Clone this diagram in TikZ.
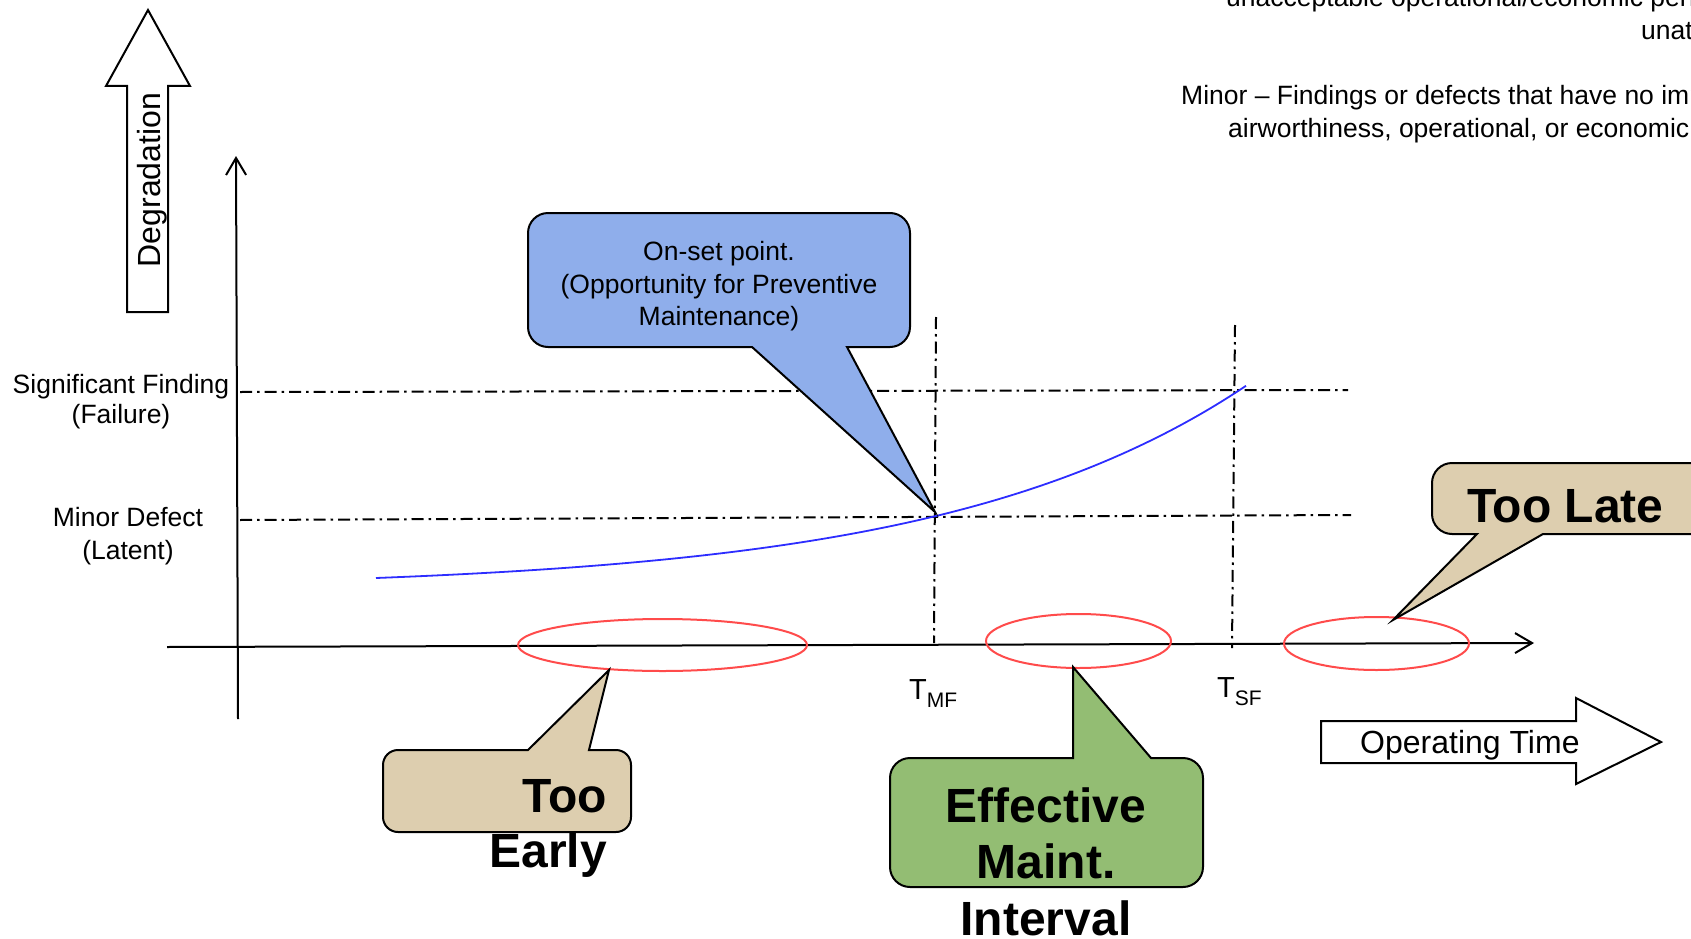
\documentclass[tikz,border=0pt]{standalone}
\usepackage{fontspec}
\setmainfont{Liberation Sans}
\usetikzlibrary{arrows.meta,shapes.geometric}
\definecolor{calloutblue}{RGB}{143,174,235}
\definecolor{callouttan}{RGB}{221,206,175}
\definecolor{calloutgreen}{RGB}{147,189,115}
\definecolor{ellred}{RGB}{255,75,75}
\definecolor{curveblue}{RGB}{45,45,255}
\tikzset{
  axisline/.style={line width=2pt, -{Straight Barb[length=17pt,width=20pt]}},
  dashdot/.style={line width=2pt, dash pattern=on 12pt off 5pt on 2.5pt off 5pt},
  blockarrow/.style={draw=black, line width=2pt, fill=white, line join=miter},
  calloutshape/.style={draw=black, line width=2pt, line join=miter},
  ell/.style={ellipse, draw=ellred, line width=2pt, inner sep=0pt},
  lbl/.style={font=\fontsize{26.5}{32}\selectfont, inner sep=0pt},
  bigb/.style={font=\bfseries\fontsize{48}{56}\selectfont, inner sep=0pt},
  midlbl/.style={font=\fontsize{32}{36}\selectfont, inner sep=0pt},
  tlbl/.style={font=\fontsize{29}{32}\selectfont, inner sep=0pt, anchor=base west},
}
\newcommand{\tsubscr}[1]{\raisebox{-8pt}{\fontsize{21}{21}\selectfont #1}}
\begin{document}
\begin{tikzpicture}[x=1pt,y=-1pt]
\path[use as bounding box] (0,0) rectangle (1691,939);
\clip (0,0) rectangle (1691,939);

% top-right text (cut by the picture edge)
\node[lbl, anchor=base west] (tr1) at (1226,7) {unacceptable operational/economic perf};
\node[lbl, anchor=base west] (tr2) at (1641,40) {unat};
\node[lbl, anchor=base west] (tr3) at (1181,104.5) {Minor – Findings or defects that have no imp};
\node[lbl, anchor=base west] (tr4) at (1228,137.5) {airworthiness, operational, or economic};

% Degradation block arrow
\draw[blockarrow] (127,312) -- (168,312) -- (168,86) -- (190,86) -- (148,10) -- (106,86) -- (127,86) -- cycle;
\node[midlbl, rotate=90, anchor=base] (deg) at (160,180) {Degradation};

% Operating Time block arrow
\draw[blockarrow] (1321,721) -- (1576,721) -- (1576,698) -- (1661,742) -- (1576,784) -- (1576,763) -- (1321,763) -- cycle;
\node[midlbl, anchor=base west] (optime) at (1360,753) {Operating Time};

% axes
\coordinate (yb) at (238,719);
\coordinate (yt) at (236,156);
\coordinate (xl) at (167,647);
\coordinate (xr) at (1534,643);
\draw[axisline] (yb) -- (yt);
\draw[axisline] (xl) -- (xr);

% dash-dot level lines
\coordinate (sfL) at (240,392);
\coordinate (sfR) at (1348,390);
\coordinate (mdL) at (240,520);
\coordinate (mdR) at (1351,515);
\draw[dashdot] (sfL) -- (sfR);
\draw[dashdot] (mdL) -- (mdR);
\coordinate (tmfT) at (936,317);
\coordinate (tmfB) at (934,643);
\coordinate (tsfT) at (1235,325);
\coordinate (tsfB) at (1232,648);
\draw[dashdot] (tmfT) -- (tmfB);
\draw[dashdot] (tsfT) -- (tsfB);

% level labels
\node[lbl, anchor=base] (sf1) at (121,393) {Significant Finding};
\node[lbl, anchor=base] (sf2) at (121,423) {(Failure)};
\node[lbl, anchor=base] (md1) at (128,526) {Minor Defect};
\node[lbl, anchor=base] (md2) at (128,559) {(Latent)};

% time labels
\node[tlbl] (tmf) at (909,699) {T\tsubscr{MF}};
\node[tlbl] (tsf) at (1217,697) {T\tsubscr{SF}};

% degradation curve
\draw[curveblue, line width=1.8pt] plot[domain=376:1246, samples=80, smooth] (\x, {578-11.75*(exp(0.00328*(\x-376))-1)});

% red ellipses
\node[ell, minimum width=289pt, minimum height=52pt] (e1) at (662.5,645) {};
\node[ell, minimum width=185pt, minimum height=54pt] (e2) at (1078.5,641) {};
\node[ell, minimum width=185pt, minimum height=53pt] (e3) at (1376.5,643.5) {};

% blue callout
\coordinate (tipB) at (935,512);
\draw[calloutshape, fill=calloutblue] (752,347) -- (tipB) -- (847,347) -- (890,347) .. controls (901,347) and (910,338) .. (910,327) -- (910,233) .. controls (910,222) and (901,213) .. (890,213) -- (548,213) .. controls (537,213) and (528,222) .. (528,233) -- (528,327) .. controls (528,338) and (537,347) .. (548,347) -- cycle;
\node[lbl, anchor=base] (on1) at (719,260) {On-set point.};
\node[lbl, anchor=base] (on2) at (719,293.5) {(Opportunity for Preventive};
\node[lbl, anchor=base] (on3) at (719,325) {Maintenance)};

% Too Early callout
\coordinate (tipE) at (609,670);
\draw[calloutshape, fill=callouttan] (528,750) -- (tipE) -- (589,750) -- (616,750) .. controls (624.3,750) and (631,756.7) .. (631,765) -- (631,817) .. controls (631,825.3) and (624.3,832) .. (616,832) -- (398,832) .. controls (389.7,832) and (383,825.3) .. (383,817) -- (383,765) .. controls (383,756.7) and (389.7,750) .. (398,750) -- cycle;
\node[bigb, anchor=base east] (te1) at (607,812) {Too};
\node[bigb, anchor=base east] (te2) at (607,867) {Early};

% Effective Maint. Interval callout
\coordinate (tipM) at (1073,667);
\draw[calloutshape, fill=calloutgreen] (1073,758) -- (tipM) -- (1151,758) -- (1183,758) .. controls (1194,758) and (1203,767) .. (1203,778) -- (1203,867) .. controls (1203,878) and (1194,887) .. (1183,887) -- (910,887) .. controls (899,887) and (890,878) .. (890,867) -- (890,778) .. controls (890,767) and (899,758) .. (910,758) -- cycle;
\node[bigb, anchor=base] (em1) at (1046,822) {Effective};
\node[bigb, anchor=base] (em2) at (1046,878) {Maint.};
\node[bigb, anchor=base] (em3) at (1046,935) {Interval};

% Too Late callout
\coordinate (tipL) at (1393,620);
\draw[calloutshape, fill=callouttan] (1543,534) -- (tipL) -- (1477,534) -- (1452,534) .. controls (1441,534) and (1432,525) .. (1432,514) -- (1432,483) .. controls (1432,472) and (1441,463) .. (1452,463) -- (1760,463) -- (1760,534) -- cycle;
\node[bigb, anchor=base west] (tl) at (1467,522) {Too Late};
\end{tikzpicture}
\end{document}
